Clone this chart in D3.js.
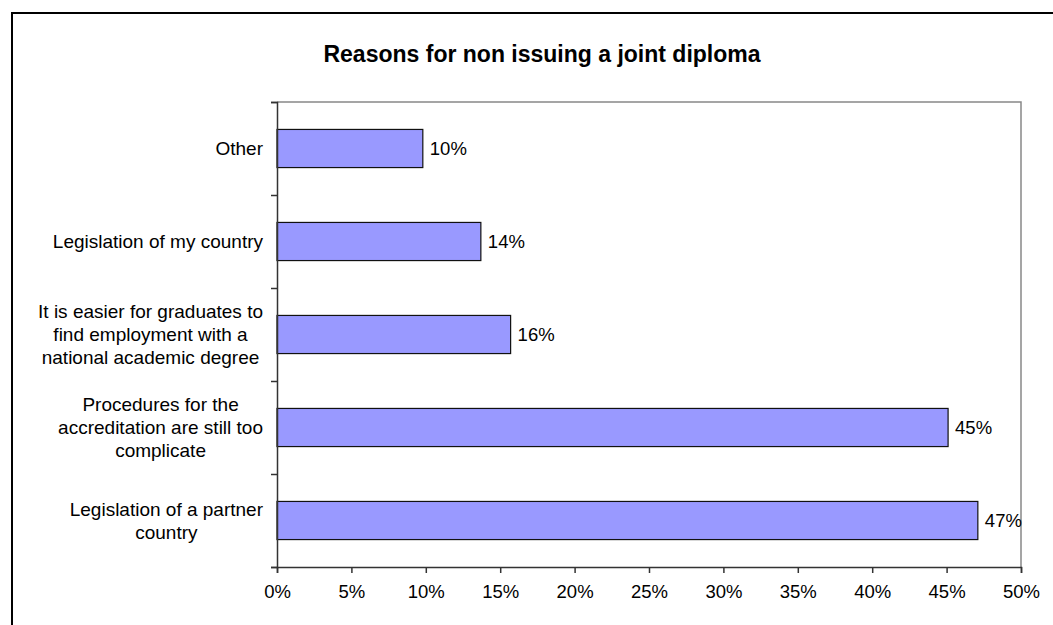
<!DOCTYPE html>
<html>
<head>
<meta charset="utf-8">
<script src="https://cdn.jsdelivr.net/npm/d3@7"></script>
<style>
  body { margin: 0; background: #fff; }
  text { font-family: "Liberation Sans", Arial, sans-serif; fill: #000; }
</style>
</head>
<body>
<script>
// reasons chart - horizontal bars, excel look

var title = "Reasons for non issuing a joint diploma";

// each category split in the lines it is shown on
var categories = [
  ["Other"],
  ["Legislation of my country"],
  ["It is easier for graduates to", "find employment with a", "national academic degree"],
  ["Procedures for the", "accreditation are still too", "complicate"],
  ["Legislation of a partner", "country"]
];
var values = [0.098, 0.137, 0.157, 0.451, 0.471];
var xTicks = [0, 0.05, 0.10, 0.15, 0.20, 0.25, 0.30, 0.35, 0.40, 0.45, 0.50];

var W = 1053, H = 625;
var pLeft = 277, pRight = 1021, pTop = 102, pBottom = 567;

var svg = d3.select("body").append("svg")
  .attr("width", W)
  .attr("height", H);

// outer frame (runs off the right / bottom edge)
svg.append("rect")
  .attr("x", 12).attr("y", 13)
  .attr("width", 1100).attr("height", 700)
  .attr("fill", "none")
  .attr("stroke", "#000")
  .attr("stroke-width", 2);

svg.append("text")
  .attr("x", 542).attr("y", 62)
  .attr("text-anchor", "middle")
  .style("font-size", "23px")
  .style("font-weight", "bold")
  .text(title);

var x = d3.scaleLinear().domain([0, 0.5]).range([pLeft, pRight]);
var idx = categories.map(function (d, i) { return i; });
var y = d3.scaleBand().domain(idx).range([pTop, pBottom])
  .paddingInner(0.59).paddingOuter(0.295);
var yEdge = d3.scaleLinear().domain([0, categories.length]).range([pTop, pBottom]);

// plot area border, grey top and right
svg.append("path")
  .attr("d", "M" + pLeft + "," + pTop + "H" + pRight + "V" + pBottom)
  .attr("fill", "none")
  .attr("stroke", "#888")
  .attr("stroke-width", 1.5);

svg.append("g").selectAll("rect")
  .data(values)
  .enter().append("rect")
  .attr("x", x(0))
  .attr("y", function (d, i) { return y(i); })
  .attr("width", function (d) { return x(d) - x(0); })
  .attr("height", y.bandwidth())
  .attr("fill", "#9999ff")
  .attr("stroke", "#111")
  .attr("stroke-width", 1.2);

svg.append("g").selectAll("text")
  .data(values)
  .enter().append("text")
  .attr("x", function (d) { return x(d) + 7; })
  .attr("y", function (d, i) { return y(i) + y.bandwidth() / 2; })
  .attr("dy", "0.35em")
  .style("font-size", "18.5px")
  .text(d3.format(".0%"));

var gx = svg.append("g")
  .attr("transform", "translate(0," + pBottom + ")")
  .call(d3.axisBottom(x).tickValues(xTicks).tickFormat(d3.format(".0%")).tickSizeOuter(0).tickSize(6).tickPadding(12));
gx.selectAll("text").style("font-size", "18.5px").attr("fill", "#000");

var gy = svg.append("g")
  .attr("transform", "translate(" + pLeft + ",0)")
  .call(d3.axisLeft(yEdge).tickValues(d3.range(0, categories.length + 1)).tickFormat("").tickSizeOuter(0).tickSize(6));

svg.selectAll(".domain, .tick line").attr("stroke", "#333").attr("stroke-width", 1.5);

// category labels: block right aligned near the axis, lines centred in it
var lineH = 22.7;
categories.forEach(function (lines, i) {
  var g = svg.append("g");
  var t = g.selectAll("text").data(lines).enter().append("text")
    .style("font-size", "19px")
    .attr("text-anchor", "middle")
    .text(function (d) { return d; });
  var maxW = d3.max(t.nodes(), function (n) { return n.getComputedTextLength(); });
  var cx = 263 - maxW / 2;
  var cy = y(i) + y.bandwidth() / 2;
  t.attr("x", cx)
    .attr("y", function (d, j) { return cy + (j - (lines.length - 1) / 2) * lineH; })
    .attr("dy", "0.35em");
});
</script>
</body>
</html>
